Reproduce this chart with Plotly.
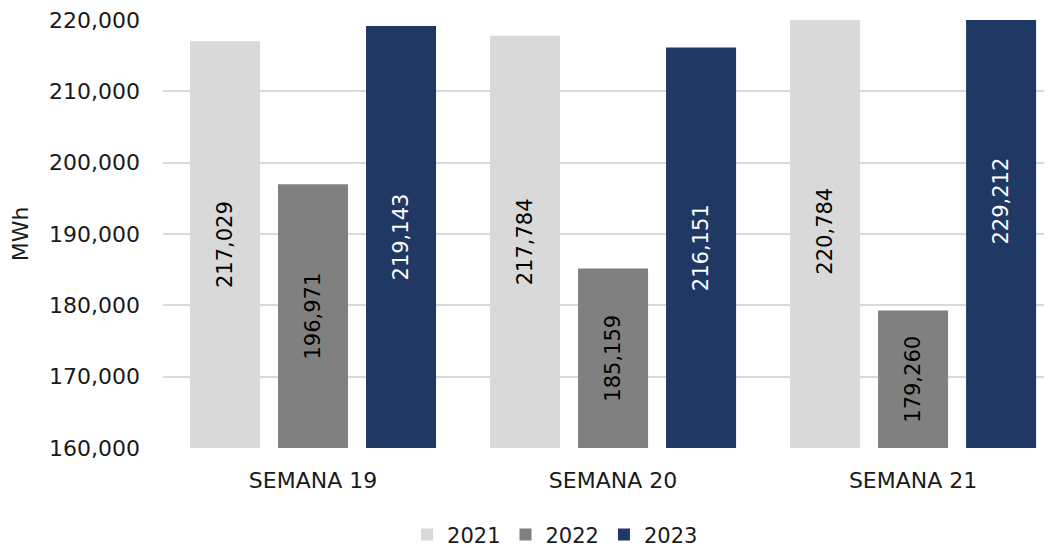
import plotly.graph_objects as go

# weekly energy demand (MWh)
semanas = ["SEMANA 19", "SEMANA 20", "SEMANA 21"]
y2021 = [217029, 217784, 220784]
y2022 = [196971, 185159, 179260]
y2023 = [219143, 216151, 229212]

BASE = 160000  # axis floor, bars start here

series = [
    ("2021", y2021, "#D9D9D9", "#000000"),
    ("2022", y2022, "#808080", "#000000"),
    ("2023", y2023, "#203864", "#FFFFFF"),
]

FONT = "DejaVu Sans"

fig = go.Figure()
for name, vals, color, tcolor in series:
    fig.add_trace(go.Bar(
        x=semanas,
        y=[v - BASE for v in vals],
        base=BASE,
        name=name,
        marker=dict(color=color, line=dict(width=0)),
        text=[f"{v:,}" for v in vals],
        textposition="inside",
        insidetextanchor="middle",
        textangle=-90,
        textfont=dict(family=FONT, size=21, color=tcolor),
        constraintext="none",
        cliponaxis=True,
    ))

# page body adds an 8px margin, so the figure is 8px smaller each way
fig.update_layout(
    width=1044,
    height=540,
    margin=dict(l=155, r=0, t=12, b=100, autoexpand=False),
    paper_bgcolor="white",
    plot_bgcolor="white",
    barmode="group",
    bargap=0.12,
    bargroupgap=0.2045,
    separators=".,",
    font=dict(family=FONT, size=22, color="#1a1a1a"),
    showlegend=True,
    legend=dict(
        orientation="h",
        x=0.441,
        xanchor="center",
        y=-0.203,
        yanchor="middle",
        font=dict(size=21),
        tracegroupgap=0,
    ),
)

fig.update_xaxes(
    range=[-0.5, 2.463],
    showgrid=False,
    showline=False,
    tickfont=dict(size=22),
    ticklabelstandoff=17,
    automargin=False,
)
fig.update_yaxes(
    range=[160000, 220000],
    dtick=10000,
    tickformat=",",
    showgrid=True,
    gridcolor="#D9D9D9",
    gridwidth=2,
    zeroline=False,
    tickfont=dict(size=22),
    ticklabelstandoff=22,
    ticklabeloverflow="allow",
    automargin=False,
    title=dict(text="MWh", font=dict(size=22), standoff=14),
)

fig.write_html("out.html")
